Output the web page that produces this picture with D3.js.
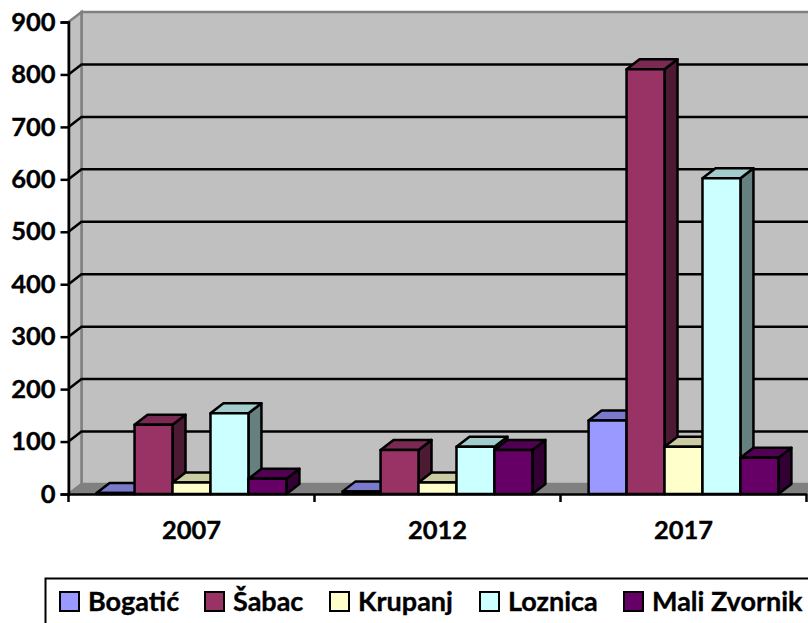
<!DOCTYPE html>
<html>
<head>
<meta charset="utf-8">
<script src="https://cdn.jsdelivr.net/npm/d3@7"></script>
<style>
    html, body { margin: 0; padding: 0; background: #fff; overflow: hidden; }
    svg { display: block; }
    text { font-family: Lato, "Open Sans", sans-serif; font-weight: 700; fill: #000; stroke: #000; stroke-width: 0.35px; }
</style>
</head>
<body>
<svg></svg>
<script>
const years = ['2007', '2012', '2017'];
const seriesNames = ['Bogatić', 'Šabac', 'Krupanj', 'Loznica', 'Mali Zvornik'];
const seriesColors = ['#9999ff', '#993366', '#ffffcc', '#ccffff', '#660066'];
const bogatic = [2, 5, 140];
const sabac = [132, 84, 810];
const krupanj = [22, 22, 90];
const loznica = [154, 90, 602];
const maliZvornik = [29, 84, 69];
const yTicks = [0, 100, 200, 300, 400, 500, 600, 700, 800, 900];

const seriesValues = [bogatic, sabac, krupanj, loznica, maliZvornik];

const width = 808;
const height = 623;
const padding = { top: 22, right: 0, bottom: 129, left: 68.5 };

// how far the chart box is pushed back for the 3D look
const wallDx = 13;
const wallDy = 10;
const barDx = 13;
const barDy = 10;

const svg = d3.select('svg')
    .attr('width', width)
    .attr('height', height);

const x = d3.scaleBand()
    .domain(years)
    .range([padding.left, 806.5]);

const xSeries = d3.scaleBand()
    .domain(seriesNames)
    .range([0, x.bandwidth()])
    .paddingOuter(0.74)
    .paddingInner(0);

const y = d3.scaleLinear()
    .domain([0, 900])
    .range([height - padding.bottom, padding.top]);

const y0 = y(0);
const poly = pts => 'M' + pts.map(p => p.join(',')).join('L') + 'Z';

// back wall, side wall and floor
svg.append('path')
    .attr('d', poly([[padding.left + wallDx, y(900) - wallDy], [width + 5, y(900) - wallDy], [width + 5, y0 - wallDy], [padding.left + wallDx, y0 - wallDy]]))
    .attr('fill', '#c0c0c0')
    .attr('stroke', '#808080')
    .attr('stroke-width', 2.5);

svg.append('path')
    .attr('d', poly([[padding.left, y(900)], [padding.left + wallDx, y(900) - wallDy], [padding.left + wallDx, y0 - wallDy], [padding.left, y0]]))
    .attr('fill', '#c0c0c0')
    .attr('stroke', '#808080')
    .attr('stroke-width', 2.5);

svg.append('path')
    .attr('d', poly([[padding.left, y0], [padding.left + wallDx, y0 - wallDy], [width + 5, y0 - wallDy], [width + 5, y0]]))
    .attr('fill', '#808080')
    .attr('stroke', '#808080')
    .attr('stroke-width', 1);

// gridlines on both walls
svg.append('g')
    .selectAll('path')
    .data(yTicks.filter(d => d > 0 && d < 900))
    .enter().append('path')
    .attr('d', d => `M${padding.left},${y(d)}L${padding.left + wallDx},${y(d) - wallDy}L${width + 5},${y(d) - wallDy}`)
    .attr('fill', 'none')
    .attr('stroke', '#000')
    .attr('stroke-width', 2.5);

// bars, left to right so later ones cover the sides of earlier ones
const bars = [];
years.forEach((year, i) => {
    seriesNames.forEach((name, s) => {
        bars.push({ year: year, name: name, color: seriesColors[s], value: seriesValues[s][i] });
    });
});

const barGroups = svg.append('g')
    .selectAll('g')
    .data(bars)
    .enter().append('g')
    .attr('stroke', '#000')
    .attr('stroke-width', 2.5)
    .attr('stroke-linejoin', 'round');

const left = d => x(d.year) + xSeries(d.name);
const right = d => left(d) + xSeries.bandwidth();

barGroups.append('path')
    .attr('d', d => poly([[right(d), y(d.value)], [right(d) + barDx, y(d.value) - barDy], [right(d) + barDx, y0 - barDy], [right(d), y0]]))
    .attr('fill', d => {
        const c = d3.rgb(d.color);
        return d3.rgb(c.r * 0.5, c.g * 0.5, c.b * 0.5).formatHex();
    });

barGroups.append('path')
    .attr('d', d => poly([[left(d), y(d.value)], [left(d) + barDx, y(d.value) - barDy], [right(d) + barDx, y(d.value) - barDy], [right(d), y(d.value)]]))
    .attr('fill', d => {
        const c = d3.rgb(d.color);
        return d3.rgb(c.r * 0.8, c.g * 0.8, c.b * 0.8).formatHex();
    });

barGroups.append('rect')
    .attr('x', d => left(d))
    .attr('y', d => y(d.value))
    .attr('width', xSeries.bandwidth())
    .attr('height', d => y0 - y(d.value))
    .attr('fill', d => d.color);

// axes
const yAxis = svg.append('g')
    .attr('transform', `translate(${padding.left}, 0)`)
    .call(d3.axisLeft(y).tickValues(yTicks).tickSize(8).tickPadding(5).tickFormat(d3.format('d')));

const xAxis = svg.append('g')
    .attr('transform', `translate(0, ${y0})`)
    .call(d3.axisBottom(x).tickValues([]).tickSize(0).tickSizeOuter(0));

xAxis.selectAll('.boundary')
    .data(x.domain().map(d => x(d)).concat([x.range()[1]]))
    .enter().append('line')
    .attr('class', 'boundary')
    .attr('x1', d => d)
    .attr('x2', d => d)
    .attr('y1', 0)
    .attr('y2', 8)
    .attr('stroke', '#000');

xAxis.selectAll('.year')
    .data(years)
    .enter().append('text')
    .attr('class', 'year')
    .attr('x', d => x(d) + x.bandwidth() / 2)
    .attr('y', 45)
    .style('text-anchor', 'middle')
    .text(d => d);

svg.selectAll('.domain, .tick line, .boundary')
    .attr('stroke', '#000')
    .attr('stroke-width', 2.5);

svg.selectAll('text')
    .style('font-size', '25.5px');

// legend, runs past the right and bottom edges like the original
svg.append('rect')
    .attr('x', 45.5)
    .attr('y', 578.5)
    .attr('width', 790)
    .attr('height', 80)
    .attr('fill', '#fff')
    .attr('stroke', '#000')
    .attr('stroke-width', 2);

const legendX = [60, 205, 330, 480, 624];
const legend = svg.append('g')
    .selectAll('g')
    .data(seriesNames)
    .enter().append('g')
    .attr('transform', (d, i) => `translate(${legendX[i]}, 592)`);

legend.append('rect')
    .attr('width', 19)
    .attr('height', 19)
    .attr('fill', (d, i) => seriesColors[i])
    .attr('stroke', '#000')
    .attr('stroke-width', 2);

legend.append('text')
    .attr('x', 28)
    .attr('y', 19)
    .style('font-size', '27px')
    .text(d => d);
</script>
</body>
</html>
